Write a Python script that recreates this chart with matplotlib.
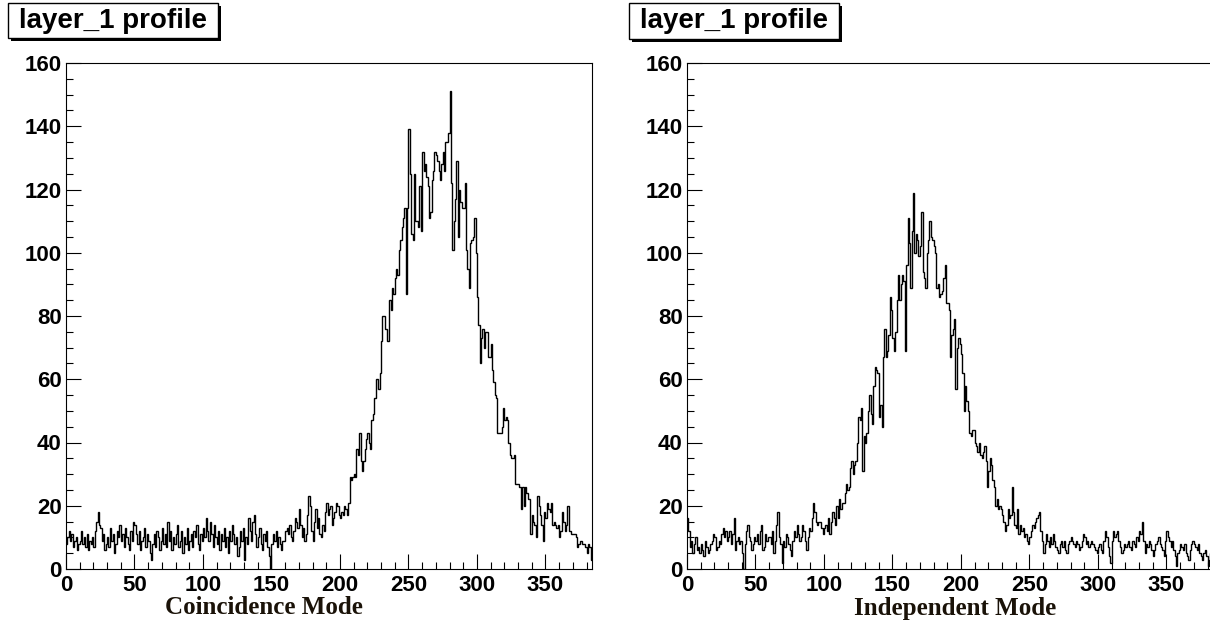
import numpy as np
import matplotlib
matplotlib.use("Agg")
import matplotlib.pyplot as plt
from matplotlib.patches import Rectangle
from matplotlib.ticker import MultipleLocator

# bin contents, 384 channels (0..383)
coincidence = [
    8, 10, 12, 9, 11, 7, 9, 10, 6, 8,
    9, 12, 8, 10, 7, 11, 6, 9, 8, 10,
    7, 12, 15, 18, 14, 13, 9, 11, 6, 8,
    10, 7, 13, 9, 11, 5, 8, 12, 10, 14,
    9, 11, 7, 13, 10, 8, 6, 12, 9, 15,
    14, 11, 8, 12, 6, 9, 10, 13, 7, 11,
    9, 5, 3, 8, 11, 7, 12, 10, 6, 9,
    13, 8, 11, 7, 15, 9, 12, 6, 10, 8,
    11, 14, 7, 9, 12, 5, 10, 8, 13, 6,
    9, 11, 7, 12, 10, 14, 8, 6, 11, 9,
    13, 10, 16, 12, 9, 15, 11, 7, 14, 10,
    8, 12, 6, 11, 9, 13, 7, 10, 5, 12,
    9, 14, 11, 8, 10, 4, 7, 12, 9, 13,
    3, 10, 8, 16, 12, 9, 15, 17, 11, 7,
    10, 13, 8, 6, 11, 9, 12, 7, 4, 0,
    8, 11, 9, 12, 7, 10, 8, 6, 9, 9,
    12, 13, 11, 14, 10, 9, 12, 16, 15, 13,
    19, 14, 10, 13, 9, 11, 17, 23, 20, 12,
    9, 15, 19, 13, 16, 11, 10, 14, 12, 18,
    21, 17, 19, 20, 14, 16, 18, 21, 20, 17,
    16, 18, 17, 20, 19, 17, 21, 29, 28, 29,
    30, 29, 38, 36, 43, 34, 31, 34, 38, 41,
    43, 40, 38, 47, 49, 54, 60, 60, 57, 62,
    72, 80, 80, 76, 72, 72, 85, 82, 89, 87,
    92, 95, 93, 101, 104, 108, 111, 114, 87, 114,
    139, 125, 106, 104, 125, 110, 110, 108, 121, 107,
    132, 126, 128, 124, 121, 111, 113, 123, 126, 132,
    131, 129, 126, 123, 128, 132, 126, 135, 135, 138,
    151, 122, 101, 110, 117, 129, 105, 120, 116, 114,
    114, 122, 101, 95, 89, 103, 104, 105, 111, 100,
    86, 77, 65, 73, 76, 70, 75, 75, 67, 67,
    71, 63, 59, 55, 54, 43, 43, 43, 45, 51,
    47, 48, 47, 40, 36, 35, 35, 36, 27, 27,
    27, 26, 19, 26, 20, 26, 24, 22, 22, 11,
    17, 15, 14, 10, 23, 20, 17, 14, 9, 18,
    16, 21, 19, 18, 21, 14, 15, 14, 13, 14,
    10, 12, 18, 15, 12, 14, 20, 12, 12, 11,
    11, 11, 10, 7, 8, 9, 9, 8, 8, 7,
    5, 8, 7, 3,
]

independent = [
    16, 12, 7, 9, 5, 8, 10, 6, 7, 5,
    8, 6, 4, 9, 7, 5, 6, 8, 9, 11,
    10, 6, 7, 9, 8, 11, 13, 10, 12, 9,
    10, 12, 8, 11, 16, 6, 9, 10, 8, 9,
    5, 0, 8, 12, 14, 10, 9, 6, 8, 10,
    9, 11, 8, 12, 14, 6, 7, 11, 9, 10,
    10, 8, 12, 5, 9, 14, 18, 10, 8, 2,
    9, 7, 11, 10, 8, 6, 4, 9, 12, 10,
    14, 11, 9, 10, 14, 12, 9, 6, 10, 13,
    12, 16, 21, 18, 15, 14, 15, 15, 13, 11,
    13, 14, 12, 16, 11, 15, 18, 16, 14, 20,
    16, 22, 19, 21, 21, 24, 27, 25, 26, 32,
    34, 30, 33, 34, 40, 48, 47, 51, 31, 42,
    40, 43, 50, 55, 49, 46, 58, 64, 63, 62,
    48, 52, 45, 67, 76, 67, 69, 74, 86, 82,
    73, 69, 75, 85, 93, 85, 90, 93, 91, 69,
    96, 111, 103, 89, 107, 119, 100, 106, 104, 99,
    102, 113, 94, 92, 89, 100, 104, 110, 105, 104,
    102, 100, 89, 90, 86, 87, 88, 92, 96, 84,
    84, 82, 67, 74, 76, 79, 57, 70, 73, 71,
    68, 62, 50, 58, 53, 50, 43, 42, 44, 44,
    40, 39, 37, 40, 36, 35, 37, 39, 34, 26,
    31, 35, 33, 28, 26, 20, 22, 19, 20, 19,
    17, 15, 12, 14, 19, 16, 17, 26, 18, 14,
    13, 19, 11, 14, 12, 13, 10, 11, 9, 8,
    10, 12, 14, 13, 15, 16, 17, 18, 12, 9,
    5, 8, 11, 9, 7, 10, 8, 11, 9, 7,
    6, 5, 8, 9, 7, 9, 6, 5, 8, 9,
    10, 9, 8, 7, 9, 8, 6, 7, 9, 11,
    10, 8, 9, 7, 8, 9, 8, 7, 6, 5,
    7, 8, 6, 5, 9, 12, 10, 7, 4, 2,
    9, 12, 10, 11, 12, 9, 7, 5, 6, 8,
    7, 8, 9, 7, 6, 9, 8, 7, 10, 9,
    12, 11, 15, 9, 5, 8, 7, 9, 8, 6,
    4, 6, 8, 9, 10, 8, 7, 6, 4, 9,
    12, 10, 9, 7, 9, 6, 4, 1, 5, 6,
    8, 7, 6, 8, 5, 4, 3, 6, 8, 9,
    8, 7, 6, 8, 5, 4, 3, 5, 6, 4,
    1, 3, 5, 4,
]

titles = ["layer_1 profile", "layer_1 profile"]
xlabels = ["Coincidence Mode", "Independent Mode"]

W, H = 1210, 625
fig = plt.figure(figsize=(W / 100, H / 100), dpi=100)

sans = "Liberation Sans"
serif = "Liberation Serif"


def px(x0, y0, x1, y1):
    # pixel box (top-left origin) -> figure fraction rect
    return [x0 / W, 1 - y1 / H, (x1 - x0) / W, (y1 - y0) / H]


panels = [
    (coincidence, xlabels[0], titles[0], 66, (8, 3, 218, 38), 264),
    (independent, xlabels[1], titles[1], 687, (629, 3, 839, 39), 955),
]

for data, xlab, title, left, tbox, xlab_x in panels:
    ax = fig.add_axes(px(left, 63, left + 526, 569))
    edges = np.arange(len(data) + 1)
    ax.stairs(data, edges, baseline=None, color="black", lw=1.0)
    ax.set_xlim(0, 384)
    ax.set_ylim(0, 160)
    for s in ax.spines.values():
        s.set_linewidth(0.8)
    ax.xaxis.set_major_locator(MultipleLocator(50))
    ax.xaxis.set_minor_locator(MultipleLocator(10))
    ax.yaxis.set_major_locator(MultipleLocator(20))
    ax.yaxis.set_minor_locator(MultipleLocator(5))
    ax.tick_params(which="both", direction="in", top=False, right=False, width=0.8)
    ax.tick_params(which="major", length=11)
    ax.tick_params(which="minor", length=5)
    ax.tick_params(axis="x", which="major", pad=4)
    ax.tick_params(axis="y", which="major", pad=3)
    for lab in ax.get_xticklabels() + ax.get_yticklabels():
        lab.set_fontfamily(sans)
        lab.set_fontweight("bold")
        lab.set_fontsize(16)

    fig.text(xlab_x / W, 1 - 608 / H, xlab, ha="center", va="center",
             fontfamily=serif, fontweight="bold", fontsize=18, color="#1a1208")

    # title box with drop shadow, ROOT style
    x0, y0, x1, y1 = tbox
    sh = 3
    fig.patches.append(Rectangle(((x0 + sh) / W, 1 - (y1 + sh) / H),
                                 (x1 - x0) / W, (y1 - y0) / H,
                                 transform=fig.transFigure, facecolor="black",
                                 edgecolor="black", lw=0, zorder=1))
    fig.patches.append(Rectangle((x0 / W, 1 - y1 / H), (x1 - x0) / W, (y1 - y0) / H,
                                 transform=fig.transFigure, facecolor="white",
                                 edgecolor="black", lw=1.0, zorder=2))
    fig.text((x0 + x1) / 2 / W, 1 - (y0 + y1) / 2 / H, title, ha="center", va="center",
             fontfamily=sans, fontweight="bold", fontsize=20, zorder=3)

fig.savefig("out.png", dpi=100)
